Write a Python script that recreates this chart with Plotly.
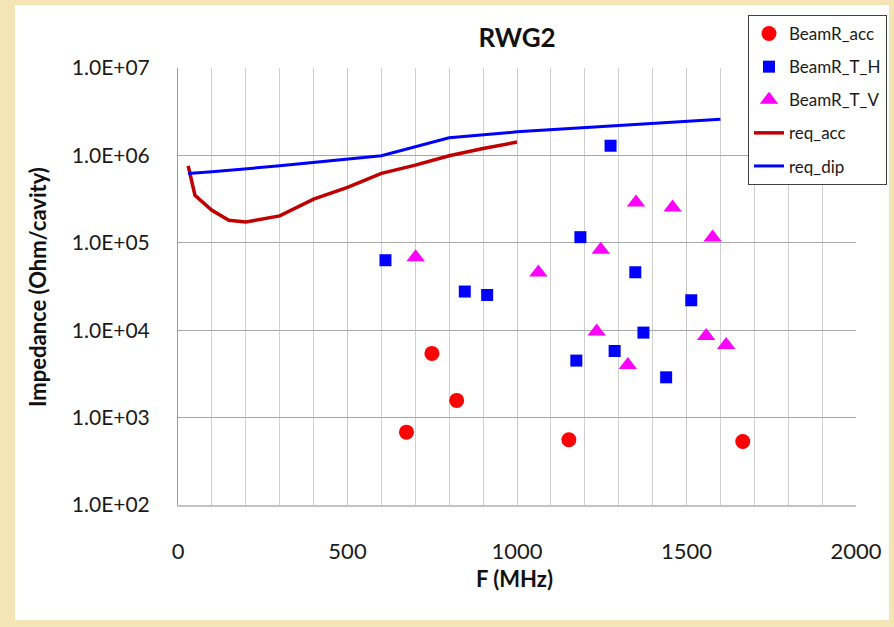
import plotly.graph_objects as go

# ---- data ----
acc_f = [674, 749, 822, 1153, 1666]
acc_z = [682, 5430, 1574, 558, 533]

th_f = [612, 846, 912, 1187, 1276, 1349, 1514, 1373, 1288, 1175, 1440]
th_z = [63200, 27700, 25300, 116000, 1290000, 46000, 22000, 9390, 5780, 4490, 2890]

tv_f = [701, 1063, 1247, 1351, 1459, 1577, 1235, 1327, 1558, 1617]
tv_z = [68400, 45700, 83000, 290000, 254000, 115000, 9640, 3990, 8590, 6770]

req_acc_f = [30, 50, 100, 150, 200, 300, 400, 500, 600, 700, 800, 900, 1000]
req_acc_z = [760000, 350000, 236000, 181000, 173000, 203000, 316000, 430000,
             622000, 774000, 990000, 1200000, 1420000]

req_dip_f = [30, 100, 300, 600, 800, 1000, 1600]
req_dip_z = [620000, 650000, 760000, 990000, 1590000, 1860000, 2600000]

y_tickvals = [1e2, 1e3, 1e4, 1e5, 1e6, 1e7]
y_ticktext = ["1.0E+02", "1.0E+03", "1.0E+04", "1.0E+05", "1.0E+06", "1.0E+07"]
x_tickvals = [0, 500, 1000, 1500, 2000]

FONT = "Lato, Open Sans, sans-serif"

fig = go.Figure()
fig.add_trace(go.Scatter(x=acc_f, y=acc_z, mode="markers", name="BeamR_acc",
                         legendgroup="a",
                         marker=dict(symbol="circle", size=15, color="#FF0000")))
fig.add_trace(go.Scatter(x=th_f, y=th_z, mode="markers", name="BeamR_T_H",
                         legendgroup="b",
                         marker=dict(symbol="square", size=12, color="#0000FF")))
fig.add_trace(go.Scatter(x=tv_f, y=tv_z, mode="markers", name="BeamR_T_V",
                         legendgroup="c",
                         marker=dict(symbol="triangle-up", size=16, color="#FF00FF")))
fig.add_trace(go.Scatter(x=req_acc_f, y=req_acc_z, mode="lines", name="req_acc",
                         legendgroup="d",
                         line=dict(color="#C00000", width=3.5)))
fig.add_trace(go.Scatter(x=req_dip_f, y=req_dip_z, mode="lines", name="req_dip",
                         legendgroup="e",
                         line=dict(color="#0000FF", width=3)))

L, R, T, B = 178, 856, 68, 505
W, H = 894, 627
pw, ph = R - L, B - T

def px(xp):
    return (xp - L) / pw

def py(yp):
    return (B - yp) / ph

fig.update_layout(
    width=W, height=H,
    margin=dict(l=L, r=W - R, t=T, b=H - B, autoexpand=False),
    paper_bgcolor="#F4E4B6",
    plot_bgcolor="white",
    font=dict(family=FONT, color="#1a1a1a"),
    title=dict(text="RWG2", font=dict(family=FONT, size=26, weight="bold", color="#111"),
               xref="paper", x=0.5, xanchor="center",
               yref="container", y=1 - 38 / H, yanchor="middle"),
    showlegend=True,
    legend=dict(xref="container", yref="container",
                x=748 / W, y=1 - 15 / H, xanchor="left", yanchor="top",
                bgcolor="white", bordercolor="#404040", borderwidth=1,
                font=dict(family=FONT, size=17, color="#1a1a1a"),
                tracegroupgap=8),
    shapes=[dict(type="rect", xref="paper", yref="paper", layer="below",
                 x0=px(15), x1=px(889), y0=py(620), y1=py(5),
                 fillcolor="white", line=dict(width=0))],
    annotations=[
        dict(text="Impedance (Ohm/cavity)", xref="paper", yref="paper",
             x=px(37), y=py(287), textangle=-90, showarrow=False,
             xanchor="center", yanchor="middle",
             font=dict(family=FONT, size=22, weight="bold", color="#111")),
        dict(text="F (MHz)", xref="paper", yref="paper",
             x=px(514), y=py(578), showarrow=False,
             xanchor="center", yanchor="middle",
             font=dict(family=FONT, size=22, weight="bold", color="#111")),
    ],
)

fig.update_xaxes(range=[0, 2000], tickvals=x_tickvals,
                 showgrid=True, gridcolor="#C8C8C8", gridwidth=1,
                 minor=dict(dtick=100, showgrid=True, gridcolor="#D0D0D0", gridwidth=1),
                 showline=True, linecolor="#C4C4C4", linewidth=2,
                 zeroline=False, ticks="", ticklabelstandoff=26,
                 tickfont=dict(family=FONT, size=22, color="#1a1a1a"))
fig.update_yaxes(type="log", range=[2, 7], tickvals=y_tickvals, ticktext=y_ticktext,
                 showgrid=True, gridcolor="#A8A8A8", gridwidth=1,
                 showline=True, linecolor="#9A9A9A", linewidth=1,
                 zeroline=False, ticks="", ticklabelstandoff=23,
                 tickfont=dict(family=FONT, size=21, color="#1a1a1a"))

fig.write_html("out.html")
